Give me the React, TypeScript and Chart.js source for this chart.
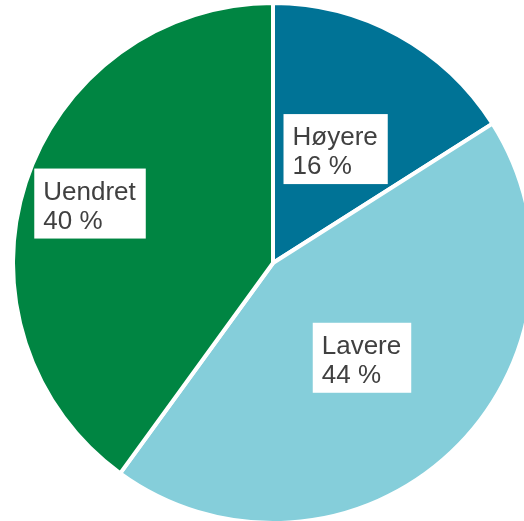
import React, { useEffect, useRef } from "react";
import { Chart, registerables } from "chart.js";

Chart.register(...registerables);

const categories = ["Høyere", "Lavere", "Uendret"];
const values = [16, 44, 40];
const colors = ["#007396", "#85CEDA", "#008542"];
const labelDistance = [0.5, 0.5, 0.74];

const labelPlugin = {
  id: "boxLabels",
  afterDatasetsDraw(chart: any) {
    const ctx = chart.ctx;
    const meta = chart.getDatasetMeta(0);
    ctx.save();
    ctx.font = "26px 'Liberation Sans', Arial, sans-serif";
    meta.data.forEach((arc: any, i: number) => {
      const { x, y, startAngle, endAngle, outerRadius } = arc.getProps(
        ["x", "y", "startAngle", "endAngle", "outerRadius"],
        true
      );
      const mid = (startAngle + endAngle) / 2;
      const r = outerRadius * labelDistance[i];
      const cx = x + Math.cos(mid) * r;
      const cy = y + Math.sin(mid) * r;
      const line1 = categories[i];
      const line2 = `${values[i]} %`;
      const w = Math.max(ctx.measureText(line1).width, ctx.measureText(line2).width) + 19;
      const h = 70;
      const left = cx - w / 2;
      const top = cy - h / 2;
      ctx.fillStyle = "#ffffff";
      ctx.fillRect(left, top, w, h);
      ctx.fillStyle = "#404040";
      ctx.textBaseline = "alphabetic";
      ctx.textAlign = "left";
      ctx.fillText(line1, left + 9, top + 31);
      ctx.fillText(line2, left + 9, top + 60);
    });
    ctx.restore();
  },
};

export default function App() {
  const ref = useRef<HTMLCanvasElement | null>(null);
  useEffect(() => {
    if (!ref.current) return;
    const chart = new Chart(ref.current, {
      type: "pie",
      data: {
        labels: categories,
        datasets: [
          {
            data: values,
            backgroundColor: colors,
            borderColor: "#ffffff",
            borderWidth: 4,
          },
        ],
      },
      options: {
        responsive: false,
        animation: false,
        layout: { padding: 0 },
        plugins: {
          legend: { display: false },
          tooltip: { enabled: false },
        },
      },
      plugins: [labelPlugin],
    });
    return () => chart.destroy();
  }, []);
  return (
    <div
      style={{
        position: "fixed",
        left: 0,
        top: 0,
        width: 524,
        height: 521,
        overflow: "hidden",
        background: "#ffffff",
      }}
    >
      <canvas
        ref={ref}
        width={524}
        height={524}
        style={{ position: "absolute", left: 11, top: 1, width: 524, height: 524 }}
      />
    </div>
  );
}
